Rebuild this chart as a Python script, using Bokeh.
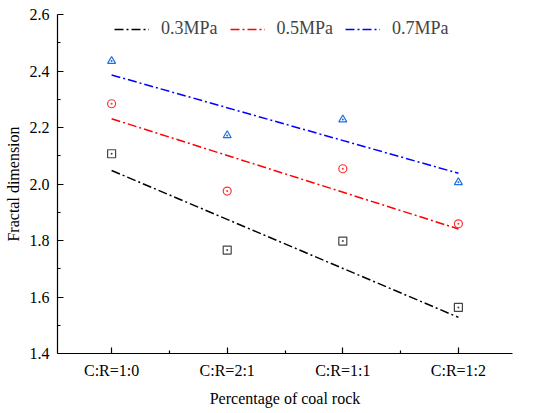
from bokeh.plotting import figure
from bokeh.models import FixedTicker, Legend, LegendItem, Range1d, NumeralTickFormatter
from bokeh.embed import file_html
from bokeh.resources import INLINE

categories = ["C:R=1:0", "C:R=2:1", "C:R=1:1", "C:R=1:2"]
xpos = [1, 2, 3, 4]
series_names = ["0.3MPa", "0.5MPa", "0.7MPa"]
vals_03 = [2.107, 1.766, 1.798, 1.563]
vals_05 = [2.284, 1.975, 2.054, 1.859]
vals_07 = [2.435, 2.172, 2.228, 2.006]
fit_03 = [2.048, 1.528]
fit_05 = [2.231, 1.841]
fit_07 = [2.386, 2.038]
fit_x = [1, 4]
yticks = [1.4, 1.6, 1.8, 2.0, 2.2, 2.4, 2.6]
yminor = [1.5, 1.7, 1.9, 2.1, 2.3, 2.5]

FONT = "Liberation Serif"

p = figure(width=550, height=413, output_backend="svg", toolbar_location=None,
           x_range=Range1d(0.532, 4.468), y_range=Range1d(1.4, 2.6),
           min_border_left=57, min_border_right=38, min_border_top=14, min_border_bottom=60)
p.outline_line_color = None
p.grid.visible = False
p.background_fill_color = "white"

p.xaxis.ticker = FixedTicker(ticks=xpos, minor_ticks=[1.5, 2.5, 3.5])
p.xaxis.major_label_overrides = {x: c for x, c in zip(xpos, categories)}
p.yaxis.ticker = FixedTicker(ticks=yticks, minor_ticks=yminor)
p.yaxis.formatter = NumeralTickFormatter(format="0.0")

for ax in (p.xaxis, p.yaxis):
    ax.axis_line_color = "black"
    ax.axis_line_width = 1.2
    ax.major_tick_in = 6
    ax.major_tick_out = 0
    ax.minor_tick_in = 3
    ax.minor_tick_out = 0
    ax.major_tick_line_width = 1.2
    ax.minor_tick_line_width = 1.2
    ax.major_label_text_font = FONT
    ax.major_label_text_font_size = "16px"
    ax.major_label_text_color = "black"
    ax.axis_label_text_font = FONT
    ax.axis_label_text_font_size = "16px"
    ax.axis_label_text_font_style = "normal"
    ax.axis_label_text_color = "black"

p.xaxis.axis_label = "Percentage of coal rock"
p.yaxis.axis_label = "Fractal dimension"
p.xaxis.major_label_standoff = 8
p.xaxis.axis_label_standoff = 8
p.yaxis.major_label_standoff = 8
p.yaxis.axis_label_standoff = 5

line_colors = ["black", "#ff0000", "#0000ff"]
marker_colors = ["#444444", "#ff3333", "#1f6fe0"]
markers = ["square_dot", "circle_dot", "triangle_dot"]
vals = [vals_03, vals_05, vals_07]
fits = [fit_03, fit_05, fit_07]

items = []
for name, lc, mc, mk, v, f in zip(series_names, line_colors, marker_colors, markers, vals, fits):
    r = p.line(fit_x, f, line_color=lc, line_width=1.5, line_dash="9 3 2 3")
    p.scatter(xpos, v, marker=mk, size=8, line_color=mc, fill_color=None, line_width=1.2)
    items.append(LegendItem(label=name, renderers=[r]))

legend = Legend(items=items, orientation="horizontal", location=(57, 314),
                border_line_color=None, background_fill_alpha=0,
                label_text_font=FONT, label_text_font_size="18px",
                glyph_width=35, label_standoff=12, spacing=12, padding=0, margin=0)
p.add_layout(legend, "center")

open("out.html", "w").write(file_html(p, INLINE))
